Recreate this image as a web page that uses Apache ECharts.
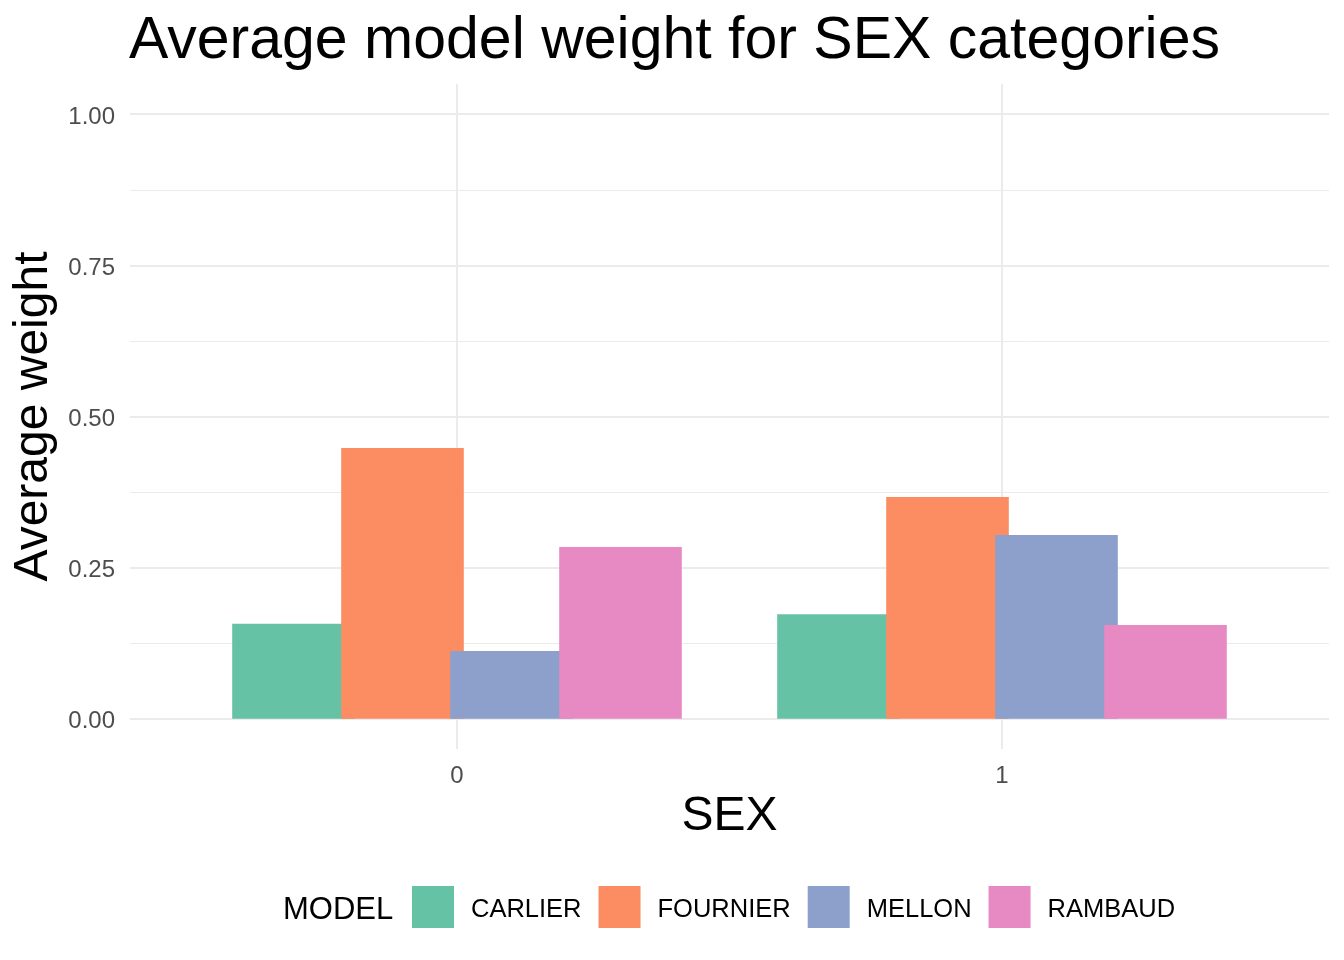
<!DOCTYPE html>
<html>
<head>
<meta charset="utf-8">
<script src="https://cdn.jsdelivr.net/npm/echarts@6/dist/echarts.min.js"></script>
<style>
  html, body { margin: 0; padding: 0; background: #ffffff; }
  #chart { width: 1344px; height: 960px; }
</style>
</head>
<body>
<div id="chart"></div>
<script>
// ---- data ----
const categories = ['0', '1'];
const models = ['CARLIER', 'FOURNIER', 'MELLON', 'RAMBAUD'];
const carlier = [0.157, 0.173];
const fournier = [0.448, 0.367];
const mellon = [0.112, 0.304];
const rambaud = [0.284, 0.155];
const yTicks = [0, 0.25, 0.5, 0.75, 1];
const yMinorTicks = [0.125, 0.375, 0.625, 0.875];
const colors = ['#66C2A5', '#FC8D62', '#8DA0CB', '#E78AC3'];

const seriesValues = [carlier, fournier, mellon, rambaud];
const xPositions = categories.map((c, i) => i);
const FONT = 'Liberation Sans, Arial, sans-serif';

const chart = echarts.init(document.getElementById('chart'), null, { renderer: 'canvas' });

const option = {
  backgroundColor: '#ffffff',
  animation: false,
  color: colors,
  textStyle: { fontFamily: FONT },
  title: {
    text: 'Average model weight for SEX categories',
    left: 129,
    top: 12,
    padding: 0,
    textStyle: { fontFamily: FONT, fontSize: 59, fontWeight: 'normal', color: '#000000' }
  },
  graphic: [{
    type: 'text',
    x: 283,
    y: 910,
    style: {
      text: 'MODEL',
      font: '31px "Liberation Sans", Arial, sans-serif',
      fill: '#000000',
      verticalAlign: 'middle',
      align: 'left'
    }
  }],
  legend: {
    data: models,
    left: 412,
    top: 886,
    padding: 0,
    orient: 'horizontal',
    icon: 'rect',
    itemWidth: 42,
    itemHeight: 42,
    itemGap: 17,
    formatter: name => '{t|' + name + '}',
    textStyle: {
      fontFamily: FONT, fontSize: 25.5, color: '#000000',
      rich: { t: { fontFamily: FONT, fontSize: 25.5, color: '#000000', padding: [6, 0, 0, 12] } }
    }
  },
  grid: {
    left: 130,
    right: 15,
    top: 84,
    bottom: 211
  },
  xAxis: {
    type: 'value',
    min: -0.6,
    max: 1.6,
    name: 'SEX',
    nameLocation: 'middle',
    nameGap: 42,
    nameTextStyle: { fontFamily: FONT, fontSize: 48, color: '#000000' },
    axisLine: { show: false },
    axisTick: { show: false, customValues: xPositions },
    axisLabel: {
      customValues: xPositions,
      formatter: v => categories[Math.round(v)],
      fontFamily: FONT, fontSize: 24, color: '#4D4D4D', margin: 15
    },
    splitLine: { show: true, lineStyle: { color: '#EBEBEB', width: 2 } }
  },
  yAxis: [{
    type: 'value',
    min: -0.05,
    max: 1.05,
    name: 'Average weight',
    nameLocation: 'middle',
    nameRotate: 90,
    nameGap: 70,
    nameTextStyle: { fontFamily: FONT, fontSize: 48, color: '#000000' },
    axisLine: { show: false },
    axisTick: { show: false, customValues: yTicks },
    axisLabel: {
      customValues: yTicks,
      formatter: v => '{a|' + v.toFixed(2) + '}',
      fontFamily: FONT, fontSize: 24, color: '#4D4D4D', margin: 15,
      rich: { a: { fontFamily: FONT, fontSize: 24, color: '#4D4D4D', padding: [6, 0, 0, 0] } }
    },
    splitLine: { show: true, lineStyle: { color: '#EBEBEB', width: 2 } }
  }, {
    type: 'value',
    min: -0.05,
    max: 1.05,
    position: 'left',
    axisLine: { show: false },
    axisTick: { show: false, customValues: yMinorTicks },
    axisLabel: { show: false, customValues: yMinorTicks },
    splitLine: { show: true, lineStyle: { color: '#EBEBEB', width: 1 } }
  }],
  series: models.map((m, k) => ({
    name: m,
    type: 'bar',
    yAxisIndex: 0,
    barWidth: '22.5%',
    barGap: '-11.11%',
    itemStyle: { color: colors[k] },
    data: xPositions.map((x, i) => [x, seriesValues[k][i]])
  }))
};

chart.setOption(option);
</script>
</body>
</html>
